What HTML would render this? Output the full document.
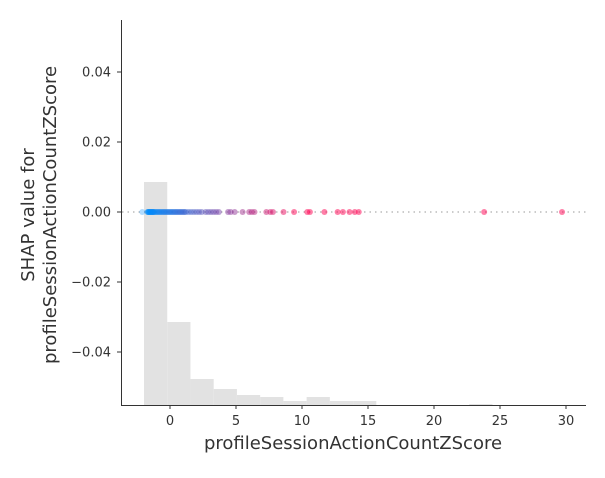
<!DOCTYPE html>
<html><head><meta charset="utf-8"><style>
body{margin:0;background:#fff}
svg{font-family:"DejaVu Sans","Liberation Sans",sans-serif}
</style></head><body>
<svg id="c" width="605" height="473"></svg>
<script>
const xTicks=[0,5,10,15,20,25,30];
const yTicks=[-0.04,-0.02,0.00,0.02,0.04];
const yTickLabels=["\u22120.04","\u22120.02","0.00","0.02","0.04"];
const binStart=-1.97, binWidth=1.76;
const histCounts=[223,83,26,16,10,8,4,8,4,4,0,0,0,0,1,0,0,0];
const featureValues=[-2.1,-1.7,-1.65,-1.6,-1.55,-1.5,-1.45,-1.4,-1.35,-1.3,-1.25,-1.2,-1.1,-1.0,-0.9,-0.8,-0.7,-0.6,-0.5,-0.4,-0.3,-0.2,-0.1,0,0.1,0.2,0.3,0.4,0.5,0.6,0.7,0.8,0.9,1.0,1.1,1.2,1.4,1.6,1.8,2.0,2.2,2.4,2.7,2.9,3.1,3.3,3.5,3.7,4.4,4.6,4.9,5.5,6.0,6.2,6.4,7.3,7.6,7.8,8.6,9.4,10.4,10.6,11.7,12.7,13.1,13.6,14.0,14.3,23.8,29.7];
const shapValues=featureValues.map(()=>0);
const X=v=>170+v*13.2, Y=v=>212-v*3500;
const svg=document.getElementById('c');const NS='http://www.w3.org/2000/svg';
function mk(t,a,p){const e=document.createElementNS(NS,t);for(const k in a)e.setAttribute(k,a[k]);(p||svg).appendChild(e);return e;}
histCounts.forEach((c,i)=>{if(!c)return;const x0=X(binStart+i*binWidth),x1=X(binStart+(i+1)*binWidth);
const r=mk('rect',{x:x0,y:405-c,width:x1-x0,height:c,fill:'#e2e2e2'});

});
const zl=mk('line',{x1:122,x2:586,y1:Y(0),y2:Y(0),stroke:'#999','stroke-dasharray':'1.5,4','stroke-width':1});


function col(v){const t=Math.max(0,Math.min(1,(v+1.5)/11));const a=[0,139,251],b=[255,0,82];
return `rgb(${a.map((c,i)=>Math.round(c+(b[i]-c)*t)).join(',')})`;}
featureValues.forEach((v,i)=>{const c=mk('circle',{cx:X(v),cy:Y(shapValues[i]),r:3,fill:col(v),'fill-opacity':v<-2?0.3:0.5});

});
mk('line',{x1:121.5,x2:121.5,y1:20,y2:405,stroke:'#333','stroke-width':1});
mk('line',{x1:121,x2:586,y1:405.5,y2:405.5,stroke:'#333','stroke-width':1});
xTicks.forEach(t=>{mk('line',{x1:X(t),x2:X(t),y1:405,y2:409,stroke:'#333'});
const l=mk('text',{x:X(t),y:425,'text-anchor':'middle','font-size':13,fill:'#333'});l.textContent=t;

});
yTicks.forEach((t,i)=>{mk('line',{x1:117,x2:121,y1:Y(t),y2:Y(t),stroke:'#333'});
const l=mk('text',{x:111,y:Y(t)+4.5,'text-anchor':'end','font-size':13,fill:'#333'});l.textContent=yTickLabels[i];

});
const xl=mk('text',{x:353,y:449,'text-anchor':'middle','font-size':18,fill:'#333'});xl.textContent='profileSessionActionCountZScore';


const yl=mk('text',{transform:'translate(34,215) rotate(-90)','text-anchor':'middle','font-size':18,fill:'#333'});


const s1=mk('tspan',{x:0,dy:0},yl);s1.textContent='SHAP value for';
const s2=mk('tspan',{x:0,dy:22},yl);s2.textContent='profileSessionActionCountZScore';
</script>
</body></html>
